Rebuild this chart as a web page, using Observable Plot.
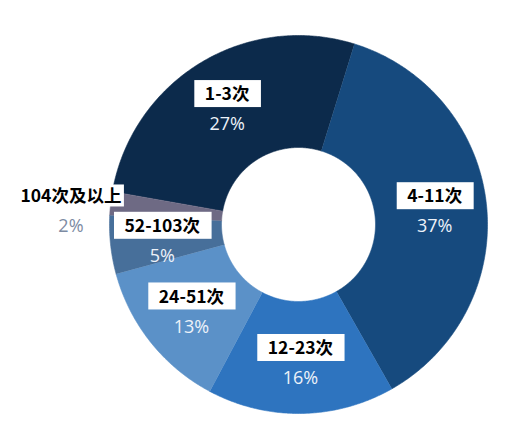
<!DOCTYPE html>
<html><head><meta charset="utf-8">
<script src="https://cdn.jsdelivr.net/npm/d3@7"></script>
<script src="https://cdn.jsdelivr.net/npm/@observablehq/plot@0.6"></script>
<style>body{margin:0;background:#fff}</style>
</head><body><div id="chart"></div>
<script>
const categories = ["1-3次","4-11次","12-23次","24-51次","52-103次","104次及以上"];
const shares = [27, 37, 16, 13, 5, 2];
const pctLabels = ["27%","37%","16%","13%","5%","2%"];
const colors = ["#0c2a4b","#164a7e","#2e74bf","#5b91c8","#476f9a","#6e6a84"];

const W = 512, H = 442, cx = 298, cy = 224, R = 189, R0 = 77, startDeg = -80;
const total = d3.sum(shares);
let acc = startDeg;
const slices = categories.map((c, i) => {
  const a0 = acc, a1 = acc + shares[i] / total * 360; acc = a1;
  return {key: c, a0, a1, mid: (a0 + a1) / 2, share: shares[i], pct: pctLabels[i]};
});
const pt = (deg, rad) => [cx + rad * Math.sin(deg * Math.PI / 180), cy - rad * Math.cos(deg * Math.PI / 180)];
const ring = slices.flatMap(s => {
  const n = Math.max(2, Math.ceil((s.a1 - s.a0) / 0.5));
  const outer = d3.range(n + 1).map(k => pt(s.a0 + (s.a1 - s.a0) * k / n, R));
  const inner = d3.range(n + 1).map(k => pt(s.a1 - (s.a1 - s.a0) * k / n, R0));
  return [...outer, ...inner].map(([x, y]) => ({key: s.key, x, y}));
});

const ctx = document.createElement("canvas").getContext("2d");
const labelFont = "bold 17.5px 'Noto Sans CJK SC', 'Noto Sans', sans-serif";
ctx.font = labelFont;
const labels = slices.map(s => {
  const outside = s.share < 3;
  const [bx, by0] = pt(s.mid, outside ? R + 40 : 137);
  const by = outside ? by0 + 10 : by0;
  const w = ctx.measureText(s.key).width;
  return {key: s.key, pct: s.pct, outside, x: bx, yBox: by - 13, yPct: by + 17,
          x1: bx - w / 2 - (outside ? 3 : 10), x2: bx + w / 2 + (outside ? 3 : 12)};
});

const chart = Plot.plot({
  width: W, height: H,
  margin: 0,
  x: {domain: [0, W], range: [0, W], axis: null},
  y: {domain: [0, H], range: [0, H], axis: null},
  color: {domain: categories, range: colors},
  marks: [
    Plot.line(ring, {x: "x", y: "y", z: "key", fill: "key", stroke: "key", strokeWidth: 0.6, curve: "linear"}),
    Plot.rect(labels, {x1: "x1", x2: "x2", y1: d => d.yBox - (d.outside ? 11 : 14), y2: d => d.yBox + (d.outside ? 11 : 13), fill: "white"}),
    Plot.text(labels, {x: "x", y: "yBox", text: "key", fill: "black", fontWeight: "bold", fontSize: 17.5,
      fontFamily: "'Noto Sans CJK SC', 'Noto Sans', sans-serif"}),
    Plot.text(labels.filter(d => !d.outside), {x: "x", y: "yPct", text: "pct", fill: "#edf2f9", fontSize: 18,
      fontFamily: "'Open Sans', 'Noto Sans', sans-serif"}),
    Plot.text(labels.filter(d => d.outside), {x: "x", y: "yPct", text: "pct", fill: "#7d8ba3", fontSize: 18,
      fontFamily: "'Open Sans', 'Noto Sans', sans-serif"})
  ]
});
document.getElementById("chart").append(chart);
</script>
</body></html>
